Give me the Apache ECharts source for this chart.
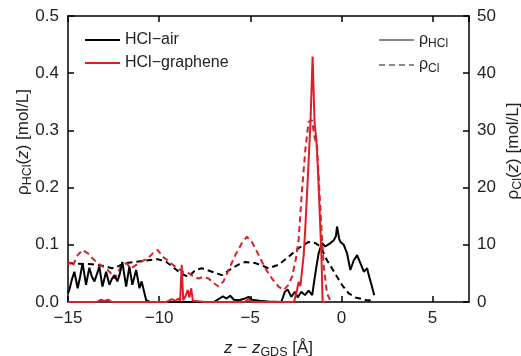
<!DOCTYPE html>
<html>
<head>
<meta charset="utf-8">
<title>HCl density profiles</title>
<script src="https://cdn.jsdelivr.net/npm/echarts@6/dist/echarts.min.js"></script>
<style>
    html, body { margin: 0; padding: 0; background: #fff; }
    #chart { width: 521px; height: 356px; }
</style>
</head>
<body>
<div id="chart"></div>
<script>
// 横轴 z - z_GDS [Å]
var xMin = -15, xMax = 7, xStep = 5;
var yLeftTicks = [0, 0.1, 0.2, 0.3, 0.4, 0.5];
var yRightTicks = [0, 10, 20, 30, 40, 50];

// HCl-air，ρ_HCl（左轴，实线）
var airHclZ = [-15, -14.93, -14.78, -14.65, -14.47, -14.33, -14.2, -14.01, -13.83, -13.7, -13.55, -13.4, -13.28, -13.11, -12.91,
    -12.73, -12.6, -12.45, -12.29, -12.15, -12.02, -11.81, -11.63, -11.47, -11.26, -11.08, -10.96, -10.71, -10.5, -9.5, -8, -7.0,
    -6.7, -6.5, -6.3, -6.1, -5.9, -5.6, -5.3, -5.1, -4.9, -4.5, -4.0, -3.3, -3.1, -2.95, -2.75, -2.55, -2.4, -2.2, -2.0, -1.8,
    -1.6, -1.5, -1.38, -1.25, -1.07, -0.88, -0.75, -0.6, -0.42, -0.3, -0.24, -0.12, -0.05, 0.13, 0.31, 0.49, 0.68, 0.86, 1.04,
    1.23, 1.41, 1.5, 1.65, 1.8];
var airHclRho = [0.015, 0.021, 0.04, 0.053, 0.024, 0.045, 0.068, 0.03, 0.06, 0.045, 0.036, 0.05, 0.062, 0.027, 0.053,
    0.03, 0.04, 0.047, 0.036, 0.05, 0.07, 0.027, 0.062, 0.03, 0.056, 0.024, 0.036, 0.003, 0, 0, 0, 0,
    0.006, 0.01, 0.006, 0.011, 0.004, 0.003, 0.006, 0.009, 0.004, 0.002, 0.001, 0, 0.018, 0.022, 0.009, 0.018, 0.008, 0.018, 0.012, 0.02,
    0.012, 0.035, 0.06, 0.085, 0.103, 0.097, 0.1, 0.103, 0.108, 0.115, 0.132, 0.11, 0.105, 0.1, 0.085, 0.056, 0.073, 0.082, 0.068,
    0.053, 0.059, 0.047, 0.03, 0.012];

// HCl-air，ρ_Cl（右轴，虚线）
var airClZ = [-15, -14.5, -13.7, -13.0, -12.6, -12.2, -11.9, -11.3, -10.6, -10.1, -9.6, -9.2, -8.8, -8.4, -8.0, -7.66, -7.1,
    -6.56, -6.0, -5.6, -5.27, -4.73, -4.3, -4.0, -3.45, -2.9, -2.35, -1.8, -1.43, -1.15, -0.79, -0.52, -0.24, 0.03, 0.4, 0.77,
    1.32, 1.8];
var airClRho = [6.8, 6.7, 6.6, 6.3, 5.9, 6.3, 6.8, 7.0, 7.3, 7.5, 7.0, 6.0, 5.0, 4.4, 5.6, 5.9, 5.3,
    4.7, 5.9, 6.6, 7.0, 6.8, 6.3, 5.9, 6.5, 7.9, 9.4, 10.5, 10.3, 9.7, 7.3, 5.9, 4.4, 3.0, 1.5, 0.8,
    0.35, 0.2];

// HCl-graphene，ρ_Cl（右轴，虚线）
var grClZ = [-15, -14.93, -14.75, -14.47, -14.2, -13.9, -13.65, -13.37, -13.1, -12.82, -12.64, -12.45, -12.27, -12.1, -11.8,
    -11.54, -11.26, -11.0, -10.63, -10.35, -10.08, -9.8, -9.53, -9.25, -8.98, -8.7, -8.34, -8.1, -7.84, -7.57, -7.29, -7.0,
    -6.74, -6.47, -6.19, -5.82, -5.46, -5.19, -4.91, -4.54, -4.18, -3.81, -3.45, -3.17, -2.9, -2.7, -2.5, -2.35, -2.16, -1.98,
    -1.8, -1.61, -1.48, -1.34, -1.21, -1.1, -0.97, -0.79, -0.6];
var grClRho = [6.5, 7.0, 6.2, 8.2, 9.1, 8.5, 7.6, 6.8, 6.2, 5.6, 5.0, 4.1, 5.0, 6.2, 6.8,
    5.9, 6.5, 7.0, 7.6, 8.5, 9.1, 7.9, 7.3, 6.5, 5.9, 5.3, 5.0, 4.4, 4.1, 4.4, 4.1, 3.3,
    2.7, 3.6, 5.6, 8.2, 10.3, 11.4, 10.5, 8.2, 5.9, 4.1, 2.7, 2.1, 3.0, 4.5, 7.5, 10.8, 19.6, 26.6,
    31.5, 31.8, 28.9, 27.2, 19.6, 13.2, 6.2, 1.5, 0.2];

// HCl-graphene，ρ_HCl（左轴，实线）
var grHclZ = [-15, -13.4, -13.2, -13.0, -12.8, -12.6, -9.6, -9.3, -9.1, -8.95, -8.85, -8.76, -8.68, -8.57, -8.43, -8.34,
    -8.24, -8.15, -7.5, -5.3, -5.1, -4.9, -2.6, -2.53, -2.44, -2.35, -2.25, -2.16, -2.07, -1.98, -1.83, -1.7, -1.58, -1.47,
    -1.37, -1.28, -1.19, -1.1, -1.03, -0.9];
var grHclRho = [0, 0, 0.004, 0.002, 0.004, 0, 0, 0.005, 0.002, 0.006, 0.002, 0.065, 0.003, 0.009, 0.021, 0.008,
    0.024, 0.002, 0, 0, 0.005, 0, 0, 0.003, 0.02, 0.035, 0.028, 0.055, 0.082, 0.13, 0.225, 0.312, 0.429, 0.312,
    0.283, 0.225, 0.155, 0.085, 0, 0];

var RED = '#dc1f26';
var FONT = 'Liberation Sans';
var TXT = '#222';

// 把 z 数组和值数组拼成 [z, v]
function zip(zs, vs) {
    var out = [];
    for (var i = 0; i < zs.length; i++) {
        out.push([zs[i], vs[i]]);
    }
    return out;
}

// 负号换成 U+2212
function minus(v) {
    return String(v).replace('-', '\u2212');
}

// 上下标等富文本样式（轴名）
var rich = {
    n: { fontFamily: FONT, fontSize: 17, color: TXT },
    i: { fontFamily: FONT, fontSize: 17, color: TXT, fontStyle: 'italic' },
    s: { fontFamily: FONT, fontSize: 12.5, color: TXT, padding: [9, 0, 0, 0] }
};
// 图例里的 ρ 字样
var legRich = {
    n: { fontFamily: FONT, fontSize: 16, color: TXT },
    s: { fontFamily: FONT, fontSize: 12, color: TXT, padding: [8, 0, 0, 0] }
};

function lineSeries(name, data, color, dashed, yIdx, z) {
    return {
        name: name,
        type: 'line',
        xAxisIndex: 0,
        yAxisIndex: yIdx,
        z: z || 2,
        data: data,
        symbol: 'none',
        animation: false,
        lineStyle: { color: color, width: 2, type: dashed ? [6, 4] : 'solid' },
        itemStyle: { color: color }
    };
}

var axisLine = { show: true, onZero: false, lineStyle: { color: '#000', width: 1.5 } };
var axisTick = { show: true, inside: true, length: 6, lineStyle: { color: '#000', width: 1.5 } };

// 图例公共部分：只画线，不画圆点
var legendBase = {
    orient: 'vertical',
    top: 27,
    itemWidth: 35,
    itemHeight: 14,
    itemGap: 7,
    itemStyle: { opacity: 0 }
};

// 合并图例公共配置
function legendOf(o) {
    var r = {};
    for (var k in legendBase) r[k] = legendBase[k];
    for (var k2 in o) r[k2] = o[k2];
    return r;
}

var option = {
    backgroundColor: '#fff',
    animation: false,
    // 坐标框位置固定，不让标签把它挤小
    grid: { left: 68, right: 52, top: 16, bottom: 54, outerBoundsMode: 'none', containLabel: false },
    legend: [legendOf({
        data: ['HCl\u2212air', 'HCl\u2212graphene'],
        left: 79,
        textStyle: { fontFamily: FONT, fontSize: 16, color: TXT }
    }), legendOf({
        data: ['rhoHCl', 'rhoCl'],
        left: 373,
        formatter: function (name) {
            return name === 'rhoHCl' ? '{n|\u03c1}{s|HCl}' : '{n|\u03c1}{s|Cl}';
        },
        textStyle: { rich: legRich }
    })],
    xAxis: [{
        type: 'value',
        position: 'bottom',
        min: xMin, max: xMax, interval: xStep,
        axisLine: axisLine,
        axisTick: axisTick,
        splitLine: { show: false },
        axisLabel: {
            fontFamily: FONT, fontSize: 17, color: TXT, margin: 8,
            showMaxLabel: false,
            formatter: minus
        },
        name: '{i|z}{n| \u2212 }{i|z}{s|GDS}{n| [\u00c5]}',
        nameLocation: 'middle',
        nameGap: 35,
        nameMoveOverlap: false,
        nameTextStyle: { rich: rich }
    }, {
        type: 'value',
        position: 'top',
        min: xMin, max: xMax, interval: xStep,
        axisLine: axisLine,
        axisTick: axisTick,
        axisLabel: { show: false },
        splitLine: { show: false }
    }],
    yAxis: [{
        type: 'value',
        position: 'left',
        min: yLeftTicks[0], max: yLeftTicks[yLeftTicks.length - 1], interval: 0.1,
        axisLine: axisLine,
        axisTick: axisTick,
        splitLine: { show: false },
        axisLabel: {
            fontFamily: FONT, fontSize: 17, color: TXT, margin: 9,
            formatter: function (v) { return v.toFixed(1); }
        },
        name: '{n|\u03c1}{s|HCl}{n|(}{i|z}{n|) [mol/L]}',
        nameLocation: 'middle',
        nameGap: 34,
        nameMoveOverlap: false,
        nameRotate: 90,
        // 左侧多留空，使标题整体上移一些
        nameTextStyle: { rich: rich, padding: [0, 0, 0, 34] }
    }, {
        type: 'value',
        position: 'right',
        min: yRightTicks[0], max: yRightTicks[yRightTicks.length - 1], interval: 10,
        axisLine: axisLine,
        axisTick: axisTick,
        splitLine: { show: false },
        axisLabel: { fontFamily: FONT, fontSize: 17, color: TXT, margin: 8 },
        name: '{n|\u03c1}{s|Cl}{n|(}{i|z}{n|) [mol/L]}',
        nameLocation: 'middle',
        nameGap: 33,
        nameMoveOverlap: false,
        nameRotate: 90,
        nameTextStyle: { rich: rich, padding: [0, 0, 0, 16] }
    }],
    series: [
        lineSeries('HCl\u2212air', zip(airHclZ, airHclRho), '#000', false, 0, 3),
        lineSeries('HCl\u2212air', zip(airClZ, airClRho), '#000', true, 1, 2),
        lineSeries('HCl\u2212graphene', zip(grHclZ, grHclRho), RED, false, 0, 4),
        lineSeries('HCl\u2212graphene', zip(grClZ, grClRho), RED, true, 1, 2),
        // 只用来画右上角的线型图例
        lineSeries('rhoHCl', [], '#888', false, 0),
        lineSeries('rhoCl', [], '#888', true, 0)
    ]
};

var myChart = echarts.init(document.getElementById('chart'));
myChart.setOption(option);
</script>
</body>
</html>
